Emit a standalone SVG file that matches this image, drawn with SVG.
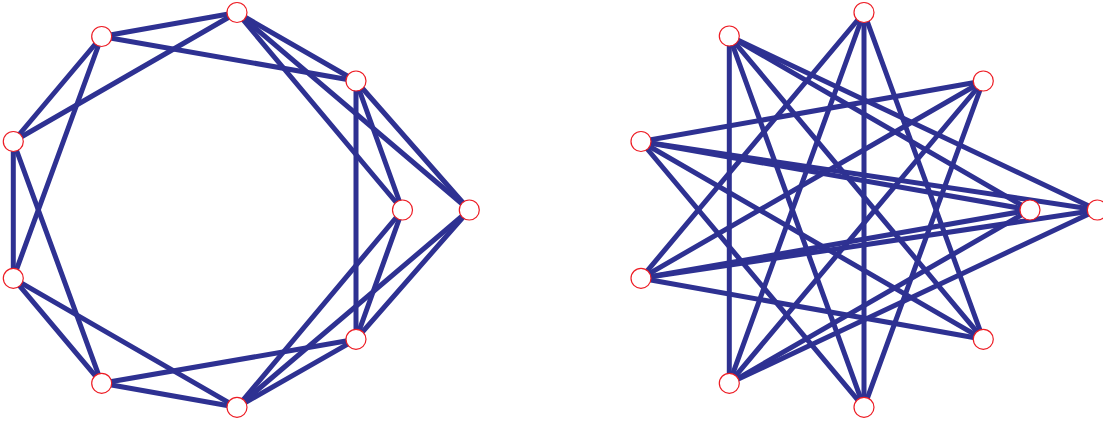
<svg xmlns="http://www.w3.org/2000/svg" width="1103" height="423" viewBox="0 0 1103 423">
<style>
.e{stroke:#2e3192;stroke-width:5;fill:none;stroke-linecap:round}
.n{fill:#ffffff;stroke:#ed1c24;stroke-width:1.2}
</style>
<rect width="1103" height="423" fill="#ffffff"/>
<g id="connectors">
<g id="left-edges">
<line class="e" x1="237" y1="12.5" x2="101.7" y2="36.5"/>
<line class="e" x1="237" y1="12.5" x2="13.3" y2="141.5"/>
<line class="e" x1="237" y1="12.5" x2="356" y2="81"/>
<line class="e" x1="237" y1="12.5" x2="402.5" y2="210"/>
<line class="e" x1="237" y1="12.5" x2="469.3" y2="210"/>
<line class="e" x1="101.7" y1="36.5" x2="13.3" y2="141.5"/>
<line class="e" x1="101.7" y1="36.5" x2="13.3" y2="278.3"/>
<line class="e" x1="101.7" y1="36.5" x2="356" y2="81"/>
<line class="e" x1="13.3" y1="141.5" x2="13.3" y2="278.3"/>
<line class="e" x1="13.3" y1="141.5" x2="101.7" y2="383.3"/>
<line class="e" x1="13.3" y1="278.3" x2="101.7" y2="383.3"/>
<line class="e" x1="13.3" y1="278.3" x2="237" y2="407.3"/>
<line class="e" x1="101.7" y1="383.3" x2="237" y2="407.3"/>
<line class="e" x1="101.7" y1="383.3" x2="356" y2="339.3"/>
<line class="e" x1="237" y1="407.3" x2="356" y2="339.3"/>
<line class="e" x1="237" y1="407.3" x2="402.5" y2="210"/>
<line class="e" x1="237" y1="407.3" x2="469.3" y2="210"/>
<line class="e" x1="356" y1="339.3" x2="356" y2="81"/>
<line class="e" x1="356" y1="339.3" x2="402.5" y2="210"/>
<line class="e" x1="356" y1="339.3" x2="469.3" y2="210"/>
<line class="e" x1="356" y1="81" x2="402.5" y2="210"/>
<line class="e" x1="356" y1="81" x2="469.3" y2="210"/>
</g>
<g id="right-edges">
<line class="e" x1="729.3" y1="36" x2="729.3" y2="383.3"/>
<line class="e" x1="729.3" y1="36" x2="864" y2="407.3"/>
<line class="e" x1="729.3" y1="36" x2="983.3" y2="339.3"/>
<line class="e" x1="729.3" y1="36" x2="1030" y2="210"/>
<line class="e" x1="729.3" y1="36" x2="1097.3" y2="210"/>
<line class="e" x1="641" y1="141.5" x2="983.3" y2="81"/>
<line class="e" x1="641" y1="141.5" x2="1030" y2="210"/>
<line class="e" x1="641" y1="141.5" x2="1097.3" y2="210"/>
<line class="e" x1="641" y1="141.5" x2="864" y2="407.3"/>
<line class="e" x1="641" y1="141.5" x2="983.3" y2="339.3"/>
<line class="e" x1="864" y1="12.5" x2="864" y2="407.3"/>
<line class="e" x1="864" y1="12.5" x2="983.3" y2="339.3"/>
<line class="e" x1="864" y1="12.5" x2="641" y2="278.3"/>
<line class="e" x1="864" y1="12.5" x2="729.3" y2="383.3"/>
<line class="e" x1="983.3" y1="81" x2="641" y2="278.3"/>
<line class="e" x1="983.3" y1="81" x2="729.3" y2="383.3"/>
<line class="e" x1="983.3" y1="81" x2="864" y2="407.3"/>
<line class="e" x1="641" y1="278.3" x2="1030" y2="210"/>
<line class="e" x1="641" y1="278.3" x2="1097.3" y2="210"/>
<line class="e" x1="641" y1="278.3" x2="983.3" y2="339.3"/>
<line class="e" x1="729.3" y1="383.3" x2="1030" y2="210"/>
<line class="e" x1="729.3" y1="383.3" x2="1097.3" y2="210"/>
</g>
</g>
<g id="left-nodes">
<g id="L1"><circle class="n" cx="237" cy="12.5" r="10"/></g>
<g id="L2"><circle class="n" cx="101.7" cy="36.5" r="10"/></g>
<g id="L3"><circle class="n" cx="13.3" cy="141.5" r="10"/></g>
<g id="L4"><circle class="n" cx="13.3" cy="278.3" r="10"/></g>
<g id="L5"><circle class="n" cx="101.7" cy="383.3" r="10"/></g>
<g id="L6"><circle class="n" cx="237" cy="407.3" r="10"/></g>
<g id="L7"><circle class="n" cx="356" cy="339.3" r="10"/></g>
<g id="L8"><circle class="n" cx="402.5" cy="210" r="10"/></g>
<g id="L9"><circle class="n" cx="469.3" cy="210" r="10"/></g>
<g id="L10"><circle class="n" cx="356" cy="81" r="10"/></g>
</g>
<g id="right-nodes">
<g id="R1"><circle class="n" cx="864" cy="12.5" r="10"/></g>
<g id="R2"><circle class="n" cx="729.3" cy="36" r="10"/></g>
<g id="R3"><circle class="n" cx="641" cy="141.5" r="10"/></g>
<g id="R4"><circle class="n" cx="641" cy="278.3" r="10"/></g>
<g id="R5"><circle class="n" cx="729.3" cy="383.3" r="10"/></g>
<g id="R6"><circle class="n" cx="864" cy="407.3" r="10"/></g>
<g id="R7"><circle class="n" cx="983.3" cy="339.3" r="10"/></g>
<g id="R8"><circle class="n" cx="1030" cy="210" r="10"/></g>
<g id="R9"><circle class="n" cx="1097.3" cy="210" r="10"/></g>
<g id="R10"><circle class="n" cx="983.3" cy="81" r="10"/></g>
</g>
</svg>
